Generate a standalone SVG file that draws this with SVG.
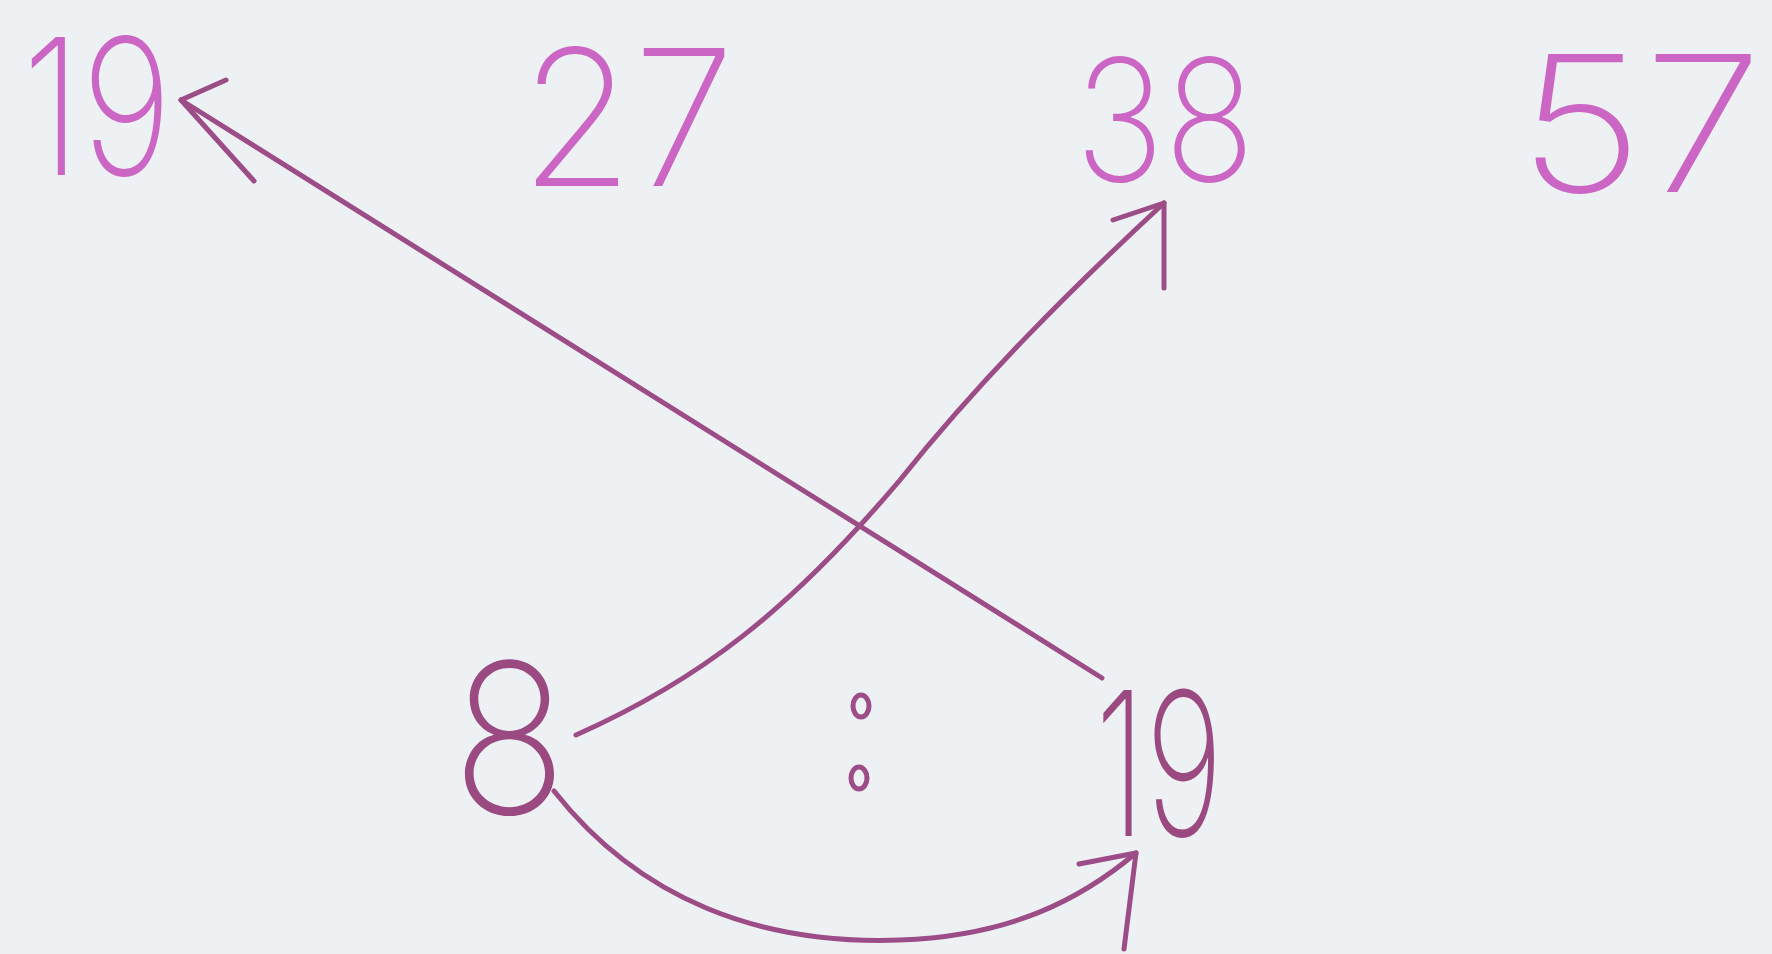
<svg xmlns="http://www.w3.org/2000/svg" width="1772" height="954" viewBox="0 0 1772 954">
<defs>
<style>
.top{font-family:Inter,Roboto,"Liberation Sans",sans-serif;font-weight:200;fill:#cc66c4;}
.bot{font-family:Inter,Roboto,"Liberation Sans",sans-serif;font-weight:200;fill:#9a4a80;}
.ln{fill:none;stroke:#9c4c86;stroke-width:5;stroke-linecap:round;stroke-linejoin:round;}
</style>
</defs>
<rect width="1772" height="954" fill="#eef1f3"/>
<g id="n19top"><text class="top" x="22" y="175" font-size="190" textLength="150" lengthAdjust="spacingAndGlyphs">19</text></g>
<g id="n27"><text class="top" x="520" y="186" font-size="190" textLength="215" lengthAdjust="spacingAndGlyphs">27</text></g>
<g id="n38"><text class="top" x="1075" y="181" font-size="170" textLength="180" lengthAdjust="spacingAndGlyphs">38</text></g>
<g id="n57"><text class="top" x="1518" y="192" font-size="190" textLength="245" lengthAdjust="spacingAndGlyphs">57</text></g>
<g id="n8"><text class="bot" x="452" y="814" font-size="210" textLength="115" lengthAdjust="spacingAndGlyphs">8</text></g>
<g id="ratio"><ellipse cx="861" cy="706" rx="8" ry="11" class="ln" stroke-width="4"/><ellipse cx="859" cy="778" rx="8" ry="11" class="ln" stroke-width="4"/></g>
<g id="n19bot"><text class="bot" x="1095" y="836" font-size="200" textLength="128" lengthAdjust="spacingAndGlyphs">19</text></g>
<g id="connectors">
<path class="ln" d="M1102 678 L181 100"/>
<path class="ln" d="M181 100 L226 80 M181 100 L254 181"/>
<path class="ln" d="M576 735 C700 680 790 610 900 480 C980 380 1070 290 1164 203"/>
<path class="ln" d="M1164 203 L1113 220 M1164 203 L1164 288"/>
<path class="ln" d="M554 791 C640 900 760 945 900 940 C1010 936 1080 900 1136 853"/>
<path class="ln" d="M1136 853 L1079 864 M1136 853 L1124 949"/>
</g>
</svg>
